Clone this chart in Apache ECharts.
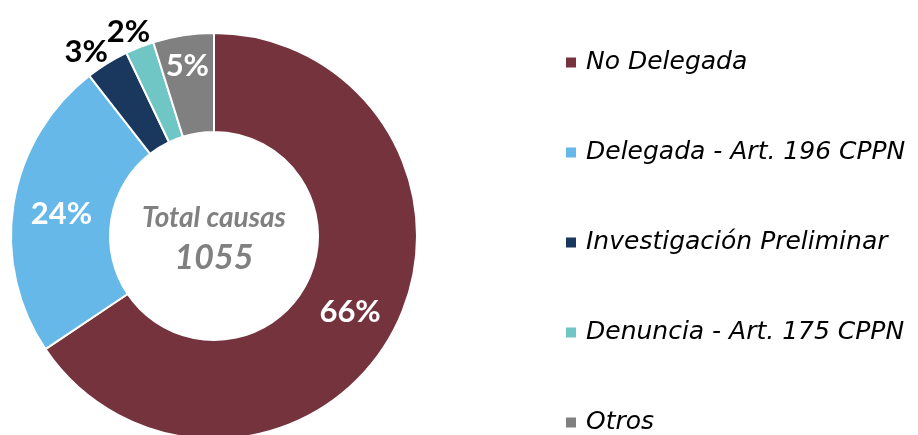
<!DOCTYPE html>
<html>
<head>
<meta charset="utf-8">
<script src="https://cdn.jsdelivr.net/npm/echarts@6/dist/echarts.min.js"></script>
<style>
  html, body { margin: 0; padding: 0; background: #fff; }
  #chart { width: 918px; height: 435px; }
</style>
</head>
<body>
<div id="chart"></div>
<script>
const categories = ['No Delegada', 'Delegada - Art. 196 CPPN', 'Investigación Preliminar', 'Denuncia - Art. 175 CPPN', 'Otros']
const causas = [692, 252, 36, 24, 51]
const colors = ['#74333D', '#66B8E8', '#1A375E', '#70C6C4', '#808080']
const totalLabel = 'Total causas'
const total = causas.reduce((a, b) => a + b, 0)

// small labels sit outside the ring, the rest inside
const outsideItems = ['Investigación Preliminar', 'Denuncia - Art. 175 CPPN']
// nudges so labels land where the original put them
const labelNudge = [[-2, 2], [2, 3], [12, -1], [20, -4], [-3, -15]]

const chart = echarts.init(document.getElementById('chart'))

const seriesData = categories.map((name, i) => {
  const outside = outsideItems.includes(name)
  return {
    name: name,
    value: causas[i],
    itemStyle: { color: colors[i] },
    label: outside
      ? { position: 'outside', color: '#000' }
      : { position: 'inside', color: '#fff' },
    labelLine: { show: false, length: 12, length2: 0 }
  }
})

chart.setOption({
  animation: false,
  legend: {
    orient: 'vertical',
    left: 564,
    top: 50,
    padding: 0,
    height: 400,
    itemWidth: 12,
    itemHeight: 12,
    itemGap: 65,
    icon: 'rect',
    textStyle: {
      fontFamily: 'DejaVu Sans',
      fontStyle: 'italic',
      fontSize: 25,
      color: '#000',
      padding: [0, 0, 0, 4]
    },
    data: categories
  },
  graphic: [
    {
      type: 'text',
      style: {
        text: totalLabel,
        x: 214,
        y: 218,
        align: 'center',
        verticalAlign: 'middle',
        fill: '#808080',
        font: 'italic bold 28px Lato'
      }
    },
    {
      type: 'text',
      style: {
        text: String(total),
        x: 214,
        y: 258,
        align: 'center',
        verticalAlign: 'middle',
        fill: '#808080',
        font: 'italic bold 34px Lato'
      }
    }
  ],
  series: [
    {
      type: 'pie',
      center: [214, 236],
      radius: [104, 203],
      startAngle: 90,
      clockwise: true,
      avoidLabelOverlap: false,
      itemStyle: { borderColor: '#fff', borderWidth: 2 },
      label: {
        show: true,
        fontFamily: 'Lato',
        fontWeight: 'bold',
        fontSize: 31,
        formatter: (p) => Math.round(p.value / total * 100) + '%'
      },
      labelLayout: (p) => ({
        hideOverlap: false,
        dx: labelNudge[p.dataIndex][0],
        dy: labelNudge[p.dataIndex][1]
      }),
      emphasis: { disabled: true },
      data: seriesData
    }
  ]
})
</script>
</body>
</html>
